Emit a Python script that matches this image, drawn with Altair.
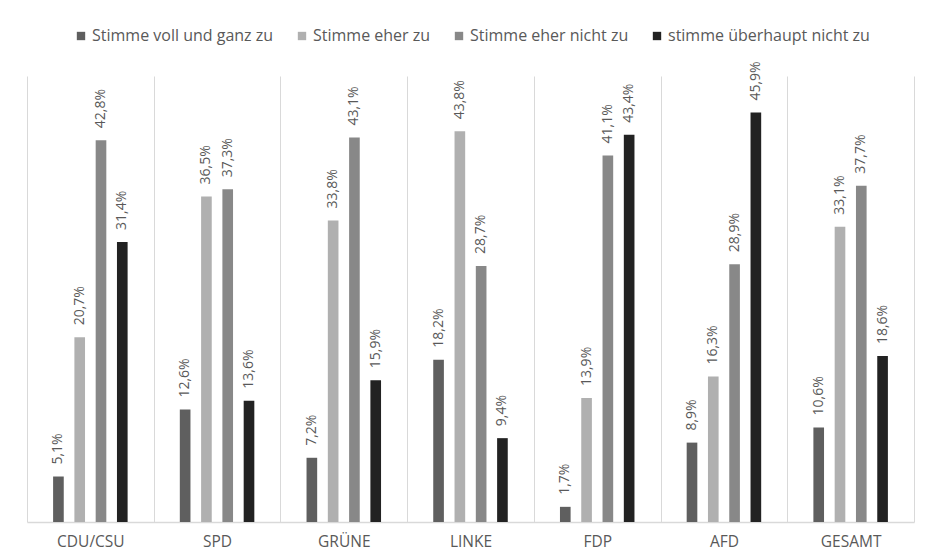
import altair as alt
import pandas as pd

parties = ["CDU/CSU", "SPD", "GRÜNE", "LINKE", "FDP", "AFD", "GESAMT"]
series = ["Stimme voll und ganz zu", "Stimme eher zu", "Stimme eher nicht zu", "stimme überhaupt nicht zu"]
colors = ["#5f5f5f", "#b0b0b0", "#888888", "#222222"]

voll = [5.1, 12.6, 7.2, 18.2, 1.7, 8.9, 10.6]
eher = [20.7, 36.5, 33.8, 43.8, 13.9, 16.3, 33.1]
eher_nicht = [42.8, 37.3, 43.1, 28.7, 41.1, 28.9, 37.7]
ueberhaupt = [31.4, 13.6, 15.9, 9.4, 43.4, 45.9, 18.6]

rows = []
for vals, s in zip([voll, eher, eher_nicht, ueberhaupt], series):
    for p, v in zip(parties, vals):
        rows.append({"Partei": p, "Antwort": s, "Wert": v})
df = pd.DataFrame(rows)
df_parties = pd.DataFrame({"Partei": parties})

FONT = "Open Sans"
TXT = "#595959"

base = alt.Chart(df).transform_calculate(
    label="replace(format(datum.Wert, '.1f'), '.', ',') + '%'"
)

x = alt.X("Partei:N", sort=parties, title=None,
          scale=alt.Scale(paddingInner=0.328, paddingOuter=0.164),
          axis=None)
xo = alt.XOffset("Antwort:N", sort=series,
                 scale=alt.Scale(paddingInner=0.5, paddingOuter=0.25))
y = alt.Y("Wert:Q", scale=alt.Scale(domain=[0, 50]), axis=None)

# category axis with separators on band boundaries
grid = alt.Chart(df_parties).mark_tick(opacity=0).encode(
    x=alt.X("Partei:N", sort=parties, title=None,
            scale=alt.Scale(paddingInner=0, paddingOuter=0),
            axis=alt.Axis(labelAngle=0, ticks=False, tickSize=0, tickBand="extent",
                          grid=True, gridColor="#d9d9d9", gridWidth=1,
                          domainColor="#d9d9d9", domainWidth=1.5,
                          labelColor=TXT, labelFont=FONT, labelFontSize=15.5,
                          labelPadding=12)),
)

bars = base.mark_bar().encode(
    x=x, xOffset=xo, y=y,
    color=alt.Color("Antwort:N", sort=series,
                    scale=alt.Scale(domain=series, range=colors),
                    legend=alt.Legend(title=None, orient="none", direction="horizontal",
                                      legendX=46, legendY=-48,
                                      symbolType="square", symbolSize=70,
                                      symbolStrokeWidth=0, labelLimit=0,
                                      labelColor=TXT, labelFont=FONT, labelFontSize=16,
                                      labelOffset=3, columnPadding=20)),
)

labels = base.mark_text(angle=270, align="left", baseline="middle", dx=12,
                        font=FONT, fontSize=14, color=TXT).encode(
    x=x, xOffset=xo, y=y, text="label:N"
)

chart = alt.layer(grid, bars, labels).resolve_scale(x="independent").properties(
    width=887, height=446,
    autosize=alt.AutoSizeParams(type="none"),
    padding={"left": 19, "top": 68, "right": 5, "bottom": 30},
).configure_view(stroke=None)

chart.save("out.html", embed_options={"renderer": "svg", "actions": False})
